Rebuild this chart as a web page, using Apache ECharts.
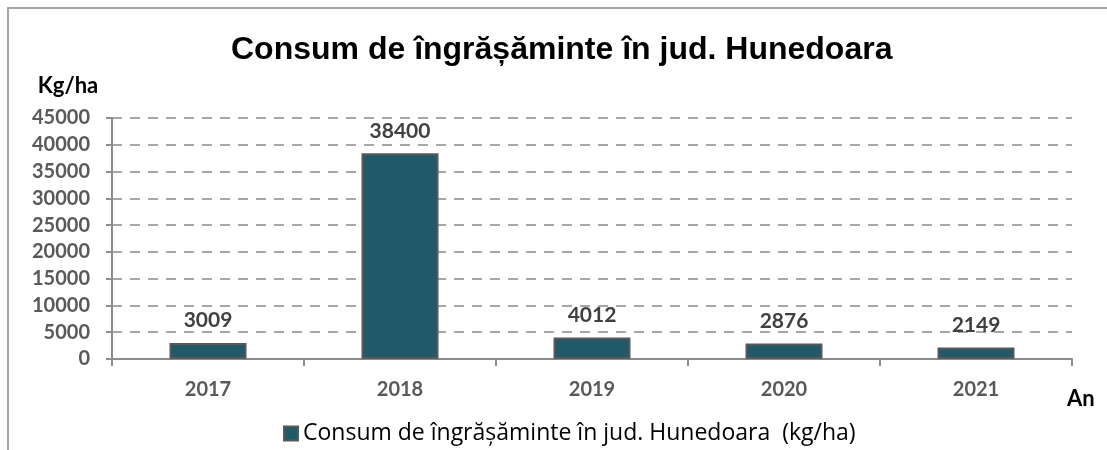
<!DOCTYPE html>
<html>
<head>
<meta charset="utf-8">
<script src="https://cdn.jsdelivr.net/npm/echarts@6/dist/echarts.min.js"></script>
<style>
  html, body { margin: 0; padding: 0; background: #fff; }
  #chart { width: 1107px; height: 450px; }
</style>
</head>
<body>
<div id="chart"></div>
<script>
// Fertiliser use per year, Hunedoara county
const years = ['2017', '2018', '2019', '2020', '2021'];
const consumption = [3009, 38400, 4012, 2876, 2149];
const seriesName = 'Consum de îngrășăminte în jud. Hunedoara  (kg/ha)';
const titleText = 'Consum de îngrășăminte în jud. Hunedoara';

const chart = echarts.init(document.getElementById('chart'), null, { renderer: 'canvas' });

const labelFont = 'Lato, "Open Sans", sans-serif';

chart.setOption({
  animation: false,
  backgroundColor: '#ffffff',
  title: {
    text: titleText,
    left: 226,
    top: 29,
    textStyle: {
      fontFamily: '"Liberation Sans", Arial, sans-serif',
      fontSize: 32,
      fontWeight: 'bold',
      color: '#000000'
    }
  },
  graphic: [
    {
      type: 'rect',
      shape: { x: 8, y: 8, width: 1200, height: 500 },
      style: { fill: 'none', stroke: '#a6a6a6', lineWidth: 2 },
      silent: true
    }
  ],
  legend: {
    bottom: 0,
    left: 278,
    itemWidth: 14,
    itemHeight: 14,
    itemGap: 6,
    textStyle: {
      fontFamily: '"Open Sans", sans-serif',
      fontSize: 23,
      color: '#000000'
    },
    data: [{ name: seriesName, icon: 'rect' }]
  },
  grid: {
    left: 112,
    right: 35,
    top: 118,
    bottom: 91,
    containLabel: false
  },
  xAxis: {
    type: 'category',
    data: years,
    name: 'An',
    nameLocation: 'end',
    nameGap: 0,
    nameTextStyle: {
      fontFamily: labelFont,
      fontSize: 22,
      fontWeight: 'bold',
      color: '#000000',
      align: 'left',
      verticalAlign: 'top',
      padding: [29, 0, 0, -5]
    },
    axisLine: { lineStyle: { color: '#8c8c8c', width: 2 } },
    axisTick: { show: true, alignWithLabel: false, length: 7, lineStyle: { color: '#8c8c8c', width: 2 } },
    axisLabel: {
      margin: 21,
      fontFamily: labelFont,
      fontSize: 20,
      fontWeight: 'bold',
      color: '#595959'
    },
    splitLine: { show: false }
  },
  yAxis: {
    type: 'value',
    min: 0,
    max: 45000,
    interval: 5000,
    name: 'Kg/ha',
    nameLocation: 'end',
    nameGap: 21,
    nameTextStyle: {
      fontFamily: labelFont,
      fontSize: 22,
      fontWeight: 'bold',
      color: '#000000',
      align: 'center',
      padding: [0, 0, 0, -88]
    },
    axisLine: { show: true, lineStyle: { color: '#8c8c8c', width: 2 } },
    axisTick: { show: true, length: 6, lineStyle: { color: '#8c8c8c', width: 2 } },
    axisLabel: {
      margin: 22,
      formatter: (v) => String(v),
      fontFamily: labelFont,
      fontSize: 20,
      fontWeight: 'bold',
      color: '#595959'
    },
    splitLine: {
      show: true,
      lineStyle: { color: '#a6a6a6', width: 2, type: [10, 8] }
    }
  },
  series: [
    {
      name: seriesName,
      type: 'bar',
      data: consumption,
      barWidth: 77,
      itemStyle: {
        color: '#215968',
        borderColor: '#595959',
        borderWidth: 2
      },
      label: {
        show: true,
        position: 'top',
        distance: 12,
        fontFamily: labelFont,
        fontSize: 21,
        fontWeight: 'bold',
        color: '#404040'
      }
    }
  ]
});
</script>
</body>
</html>
